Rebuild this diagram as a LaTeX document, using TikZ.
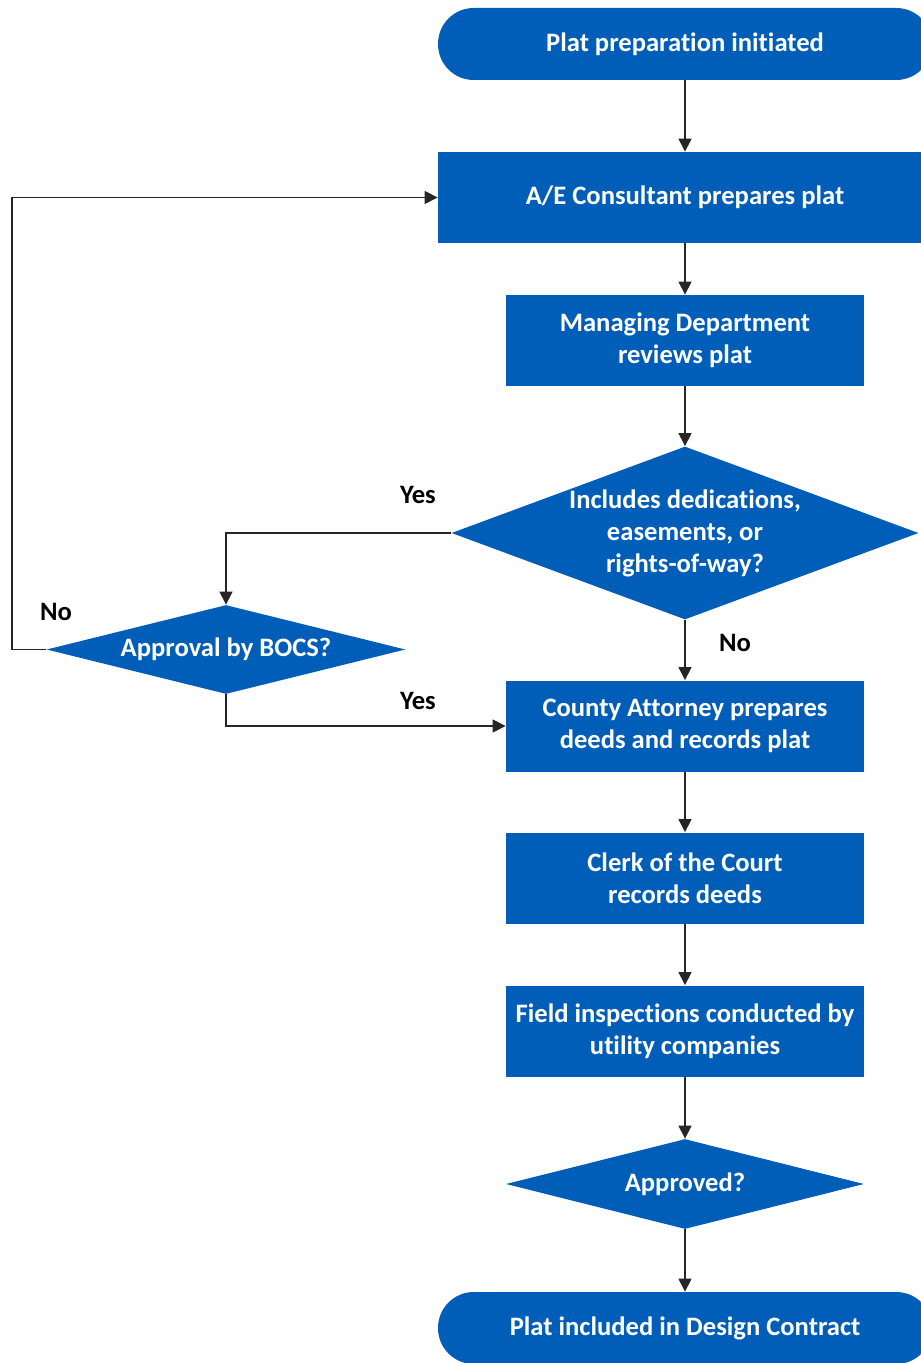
\documentclass[tikz,border=0pt]{standalone}
\usepackage{fontspec}
\setmainfont[RawFeature=-liga]{Carlito}
\usetikzlibrary{shapes.geometric,arrows.meta}
\definecolor{platblue}{RGB}{0,94,184}
\tikzset{
  stepbox/.style={fill=platblue,text=white,font=\bfseries\fontsize{13.3}{16}\selectfont,align=center,inner sep=0pt,minimum width=179pt,minimum height=45.5pt},
  widebox/.style={stepbox,minimum width=247pt},
  termbox/.style={stepbox,minimum width=247pt,minimum height=36pt,rounded corners=17.9pt},
  choice/.style={diamond,fill=platblue,text=white,font=\bfseries\fontsize{13.3}{16}\selectfont,align=center,inner sep=0pt},
  flow/.style={draw=black!85,line width=0.6pt,-{Triangle[length=6.5pt,width=6.5pt]}},
  flowline/.style={draw=black!85,line width=0.6pt},
  answer/.style={font=\bfseries\fontsize{13.3}{16}\selectfont,inner sep=0pt}
}
\begin{document}
\begin{tikzpicture}[x=0.5pt,y=0.5pt,yscale=-1,xscale=1]
\useasboundingbox (0,0) rectangle (920,1363);

% Shapes
\node[termbox] (start) at (685,44) {Plat preparation initiated};
\node[widebox] (prep) at (685,197.5) {A/E Consultant prepares plat};
\node[stepbox] (review) at (685,340.5) {Managing Department\\reviews plat};
\node[choice,minimum width=230pt,minimum height=85pt,aspect=2.7] (dedic) at (685,533) {Includes dedications,\\easements, or\\rights-of-way?};
\node[choice,minimum width=179.5pt,minimum height=44.5pt,aspect=4] (bocs) at (226,649.5) {Approval by BOCS?};
\node[stepbox] (attorney) at (685,726) {County Attorney prepares\\deeds and records plat};
\node[stepbox] (clerk) at (685,878) {Clerk of the Court\\records deeds};
\node[stepbox] (field) at (685,1031) {Field inspections conducted by\\utility companies};
\node[choice,minimum width=179pt,minimum height=45pt,aspect=4] (approved) at (685,1184) {Approved?};
\node[termbox] (finish) at (685,1328) {Plat included in Design Contract};

% Text Node
\node[answer] (yesded) at (418,495) {Yes};
\node[answer] (noded) at (735,643) {No};
\node[answer] (nobocs) at (56,612) {No};
\node[answer] (yesbocs) at (418,701) {Yes};

% Connectors
\coordinate (back) at (12,649.5);
\draw[flow] (start) -- (prep);
\draw[flow] (prep) -- (review);
\draw[flow] (review) -- (dedic);
\draw[flow] (dedic.west) -| (bocs.north);
\draw[flow] (dedic.south) -- (attorney.north);
\draw[flowline] (bocs.west) -- (back);
\draw[flow] (back) |- (prep.west);
\draw[flow] (bocs.south) |- (attorney.west);
\draw[flow] (attorney) -- (clerk);
\draw[flow] (clerk) -- (field);
\draw[flow] (field) -- (approved);
\draw[flow] (approved) -- (finish);

\end{tikzpicture}
\end{document}
